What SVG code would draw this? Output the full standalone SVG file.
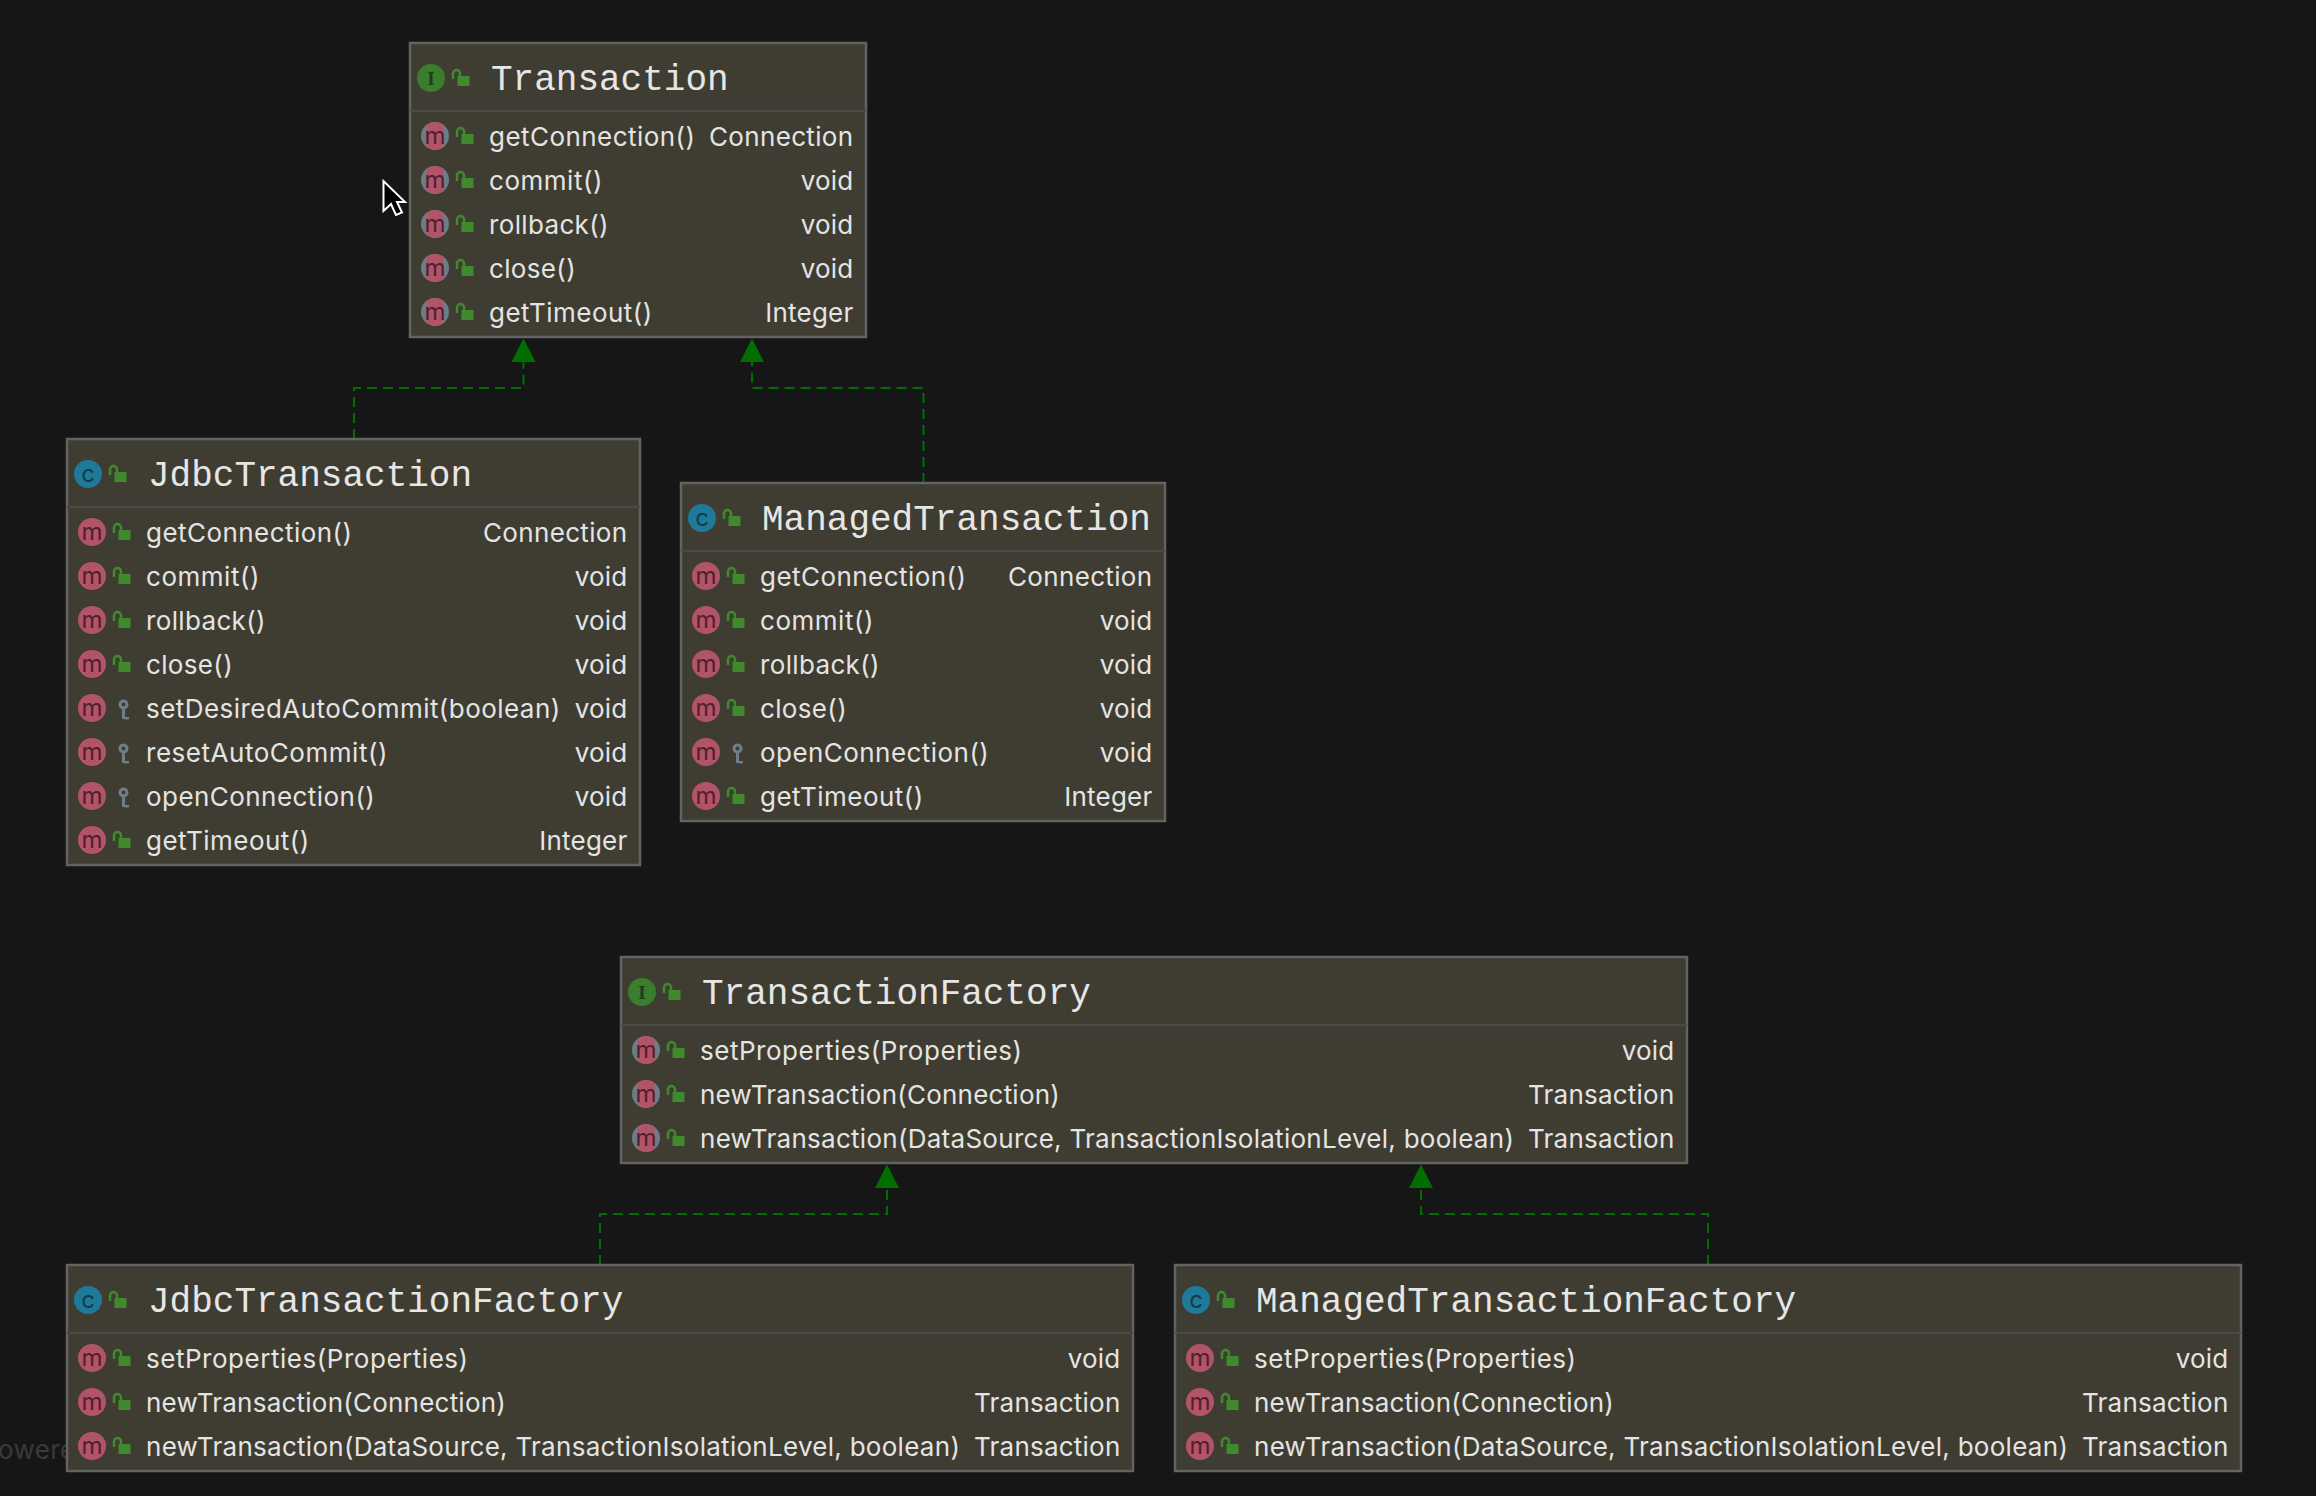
<svg xmlns="http://www.w3.org/2000/svg" width="2316" height="1496" viewBox="0 0 2316 1496">
<style>
.box{fill:#3f3d32;stroke:#636363;stroke-width:2.500}
.div{stroke:#4a4a4a;stroke-width:2}
.title{font:36px "Liberation Mono",monospace;fill:#e6e6e6}
.t{font:26px Inter,"Liberation Sans",sans-serif;fill:#e4e4e4;letter-spacing:.35px}
.r{text-anchor:end}
.a{letter-spacing:.45px}
.b{letter-spacing:.53px}
.n{letter-spacing:.23px}
.l{letter-spacing:.28px}
.v{letter-spacing:.22px}
.im{font:24px Inter,sans-serif;fill:#4e2030;text-anchor:middle}
.ic{font:24px Inter,sans-serif;fill:#123c4e;text-anchor:middle}
.ii{font:bold 19px "Liberation Serif",serif;fill:#1f3d1a;text-anchor:middle}
.edge{fill:none;stroke:#006f00;stroke-width:2;stroke-dasharray:10 6}
.head{fill:#006f00}
.wm{font:26px Inter,sans-serif;fill:#3a3a3a;letter-spacing:.35px}
</style>
<defs>
<g id="lock"><rect x="-3.500" y="-2" width="12" height="10" fill="#3f8a2c"/><path d="M-8,1V-4.500a3.500,3.500 0 0 1 7,0V-1" fill="none" stroke="#3f8a2c" stroke-width="2.500"/></g>
<g id="key" fill="#6e7f88"><path fill-rule="evenodd" d="M-.5,-8.500a5,5 0 1 1 -.01,0zM-.5,-5.500a2,2 0 1 0 .01,0z"/><path d="M-2,0h3v9h4v2.500h-4v-.5h-3z"/></g>
<g id="m"><circle r="14" fill="#b15468"/><text class="im" y="8">m</text></g>
<g id="am"><circle r="14" fill="#6d7c86"/><path d="M-8.500,-11.100A14,14 0 0 1 8.500,-11.100V11.100A14,14 0 0 1 -8.500,11.100z" fill="#b15468"/><text class="im" y="8">m</text></g>
<g id="c"><circle r="14" fill="#1f7a99"/><text class="ic" y="8">c</text></g>
<g id="i"><circle r="14" fill="#3a7d2c"/><text class="ii" y="6.500">I</text></g>
</defs>
<rect width="2316" height="1496" fill="#161616"/>
<text class="wm" x="-2" y="1459">owere</text>
<g id="connectors">
<path class="edge" d="M354,439V388H523.500V362"/>
<path class="head" d="M523.500,338.500L535.500,362H511.500z"/>
<path class="edge" d="M923.500,483V388H752V362"/>
<path class="head" d="M752,338.500L764,362H740z"/>
<path class="edge" d="M600,1265V1214H887V1188"/>
<path class="head" d="M887,1164.500L899,1188H875z"/>
<path class="edge" d="M1708,1265V1214H1421V1188"/>
<path class="head" d="M1421,1164.500L1433,1188H1409z"/>
</g>
<g id="node-transaction" transform="translate(410,43)">
<rect class="box" width="456" height="294"/><path class="div" d="M0,68H456"/>
<use href="#i" x="21" y="35"/><use href="#lock" x="51" y="35"/><text class="title" x="81" y="47">Transaction</text>
<use href="#am" x="25" y="93"/><use href="#lock" x="55" y="93"/><text class="t a" x="79" y="103">getConnection()</text><text class="t r" x="443.500" y="103">Connection</text>
<use href="#am" x="25" y="137"/><use href="#lock" x="55" y="137"/><text class="t b" x="79" y="147">commit()</text><text class="t r v" x="443.500" y="147">void</text>
<use href="#am" x="25" y="181"/><use href="#lock" x="55" y="181"/><text class="t" x="79" y="191">rollback()</text><text class="t r v" x="443.500" y="191">void</text>
<use href="#am" x="25" y="225"/><use href="#lock" x="55" y="225"/><text class="t" x="79" y="235">close()</text><text class="t r v" x="443.500" y="235">void</text>
<use href="#am" x="25" y="269"/><use href="#lock" x="55" y="269"/><text class="t a" x="79" y="279">getTimeout()</text><text class="t r v" x="443.500" y="279">Integer</text>
</g>
<g id="node-jdbc-transaction" transform="translate(67,439)">
<rect class="box" width="573" height="426"/><path class="div" d="M0,68H573"/>
<use href="#c" x="21" y="35"/><use href="#lock" x="51" y="35"/><text class="title" x="81" y="47">JdbcTransaction</text>
<use href="#m" x="25" y="93"/><use href="#lock" x="55" y="93"/><text class="t a" x="79" y="103">getConnection()</text><text class="t r" x="560.500" y="103">Connection</text>
<use href="#m" x="25" y="137"/><use href="#lock" x="55" y="137"/><text class="t b" x="79" y="147">commit()</text><text class="t r v" x="560.500" y="147">void</text>
<use href="#m" x="25" y="181"/><use href="#lock" x="55" y="181"/><text class="t" x="79" y="191">rollback()</text><text class="t r v" x="560.500" y="191">void</text>
<use href="#m" x="25" y="225"/><use href="#lock" x="55" y="225"/><text class="t" x="79" y="235">close()</text><text class="t r v" x="560.500" y="235">void</text>
<use href="#m" x="25" y="269"/><use href="#key" x="57" y="269"/><text class="t a" x="79" y="279">setDesiredAutoCommit(boolean)</text><text class="t r v" x="560.500" y="279">void</text>
<use href="#m" x="25" y="313"/><use href="#key" x="57" y="313"/><text class="t b" x="79" y="323">resetAutoCommit()</text><text class="t r v" x="560.500" y="323">void</text>
<use href="#m" x="25" y="357"/><use href="#key" x="57" y="357"/><text class="t a" x="79" y="367">openConnection()</text><text class="t r v" x="560.500" y="367">void</text>
<use href="#m" x="25" y="401"/><use href="#lock" x="55" y="401"/><text class="t a" x="79" y="411">getTimeout()</text><text class="t r v" x="560.500" y="411">Integer</text>
</g>
<g id="node-managed-transaction" transform="translate(681,483)">
<rect class="box" width="484" height="338"/><path class="div" d="M0,68H484"/>
<use href="#c" x="21" y="35"/><use href="#lock" x="51" y="35"/><text class="title" x="81" y="47">ManagedTransaction</text>
<use href="#m" x="25" y="93"/><use href="#lock" x="55" y="93"/><text class="t a" x="79" y="103">getConnection()</text><text class="t r" x="471.500" y="103">Connection</text>
<use href="#m" x="25" y="137"/><use href="#lock" x="55" y="137"/><text class="t b" x="79" y="147">commit()</text><text class="t r v" x="471.500" y="147">void</text>
<use href="#m" x="25" y="181"/><use href="#lock" x="55" y="181"/><text class="t" x="79" y="191">rollback()</text><text class="t r v" x="471.500" y="191">void</text>
<use href="#m" x="25" y="225"/><use href="#lock" x="55" y="225"/><text class="t" x="79" y="235">close()</text><text class="t r v" x="471.500" y="235">void</text>
<use href="#m" x="25" y="269"/><use href="#key" x="57" y="269"/><text class="t a" x="79" y="279">openConnection()</text><text class="t r v" x="471.500" y="279">void</text>
<use href="#m" x="25" y="313"/><use href="#lock" x="55" y="313"/><text class="t a" x="79" y="323">getTimeout()</text><text class="t r v" x="471.500" y="323">Integer</text>
</g>
<g id="node-transaction-factory" transform="translate(621,957)">
<rect class="box" width="1066" height="206"/><path class="div" d="M0,68H1066"/>
<use href="#i" x="21" y="35"/><use href="#lock" x="51" y="35"/><text class="title" x="81" y="47">TransactionFactory</text>
<use href="#am" x="25" y="93"/><use href="#lock" x="55" y="93"/><text class="t b" x="79" y="103">setProperties(Properties)</text><text class="t r v" x="1053.500" y="103">void</text>
<use href="#am" x="25" y="137"/><use href="#lock" x="55" y="137"/><text class="t n" x="79" y="147">newTransaction(Connection)</text><text class="t r v" x="1053.500" y="147">Transaction</text>
<use href="#am" x="25" y="181"/><use href="#lock" x="55" y="181"/><text class="t l" x="79" y="191">newTransaction(DataSource, TransactionIsolationLevel, boolean)</text><text class="t r v" x="1053.500" y="191">Transaction</text>
</g>
<g id="node-jdbc-transaction-factory" transform="translate(67,1265)">
<rect class="box" width="1066" height="206"/><path class="div" d="M0,68H1066"/>
<use href="#c" x="21" y="35"/><use href="#lock" x="51" y="35"/><text class="title" x="81" y="47">JdbcTransactionFactory</text>
<use href="#m" x="25" y="93"/><use href="#lock" x="55" y="93"/><text class="t b" x="79" y="103">setProperties(Properties)</text><text class="t r v" x="1053.500" y="103">void</text>
<use href="#m" x="25" y="137"/><use href="#lock" x="55" y="137"/><text class="t n" x="79" y="147">newTransaction(Connection)</text><text class="t r v" x="1053.500" y="147">Transaction</text>
<use href="#m" x="25" y="181"/><use href="#lock" x="55" y="181"/><text class="t l" x="79" y="191">newTransaction(DataSource, TransactionIsolationLevel, boolean)</text><text class="t r v" x="1053.500" y="191">Transaction</text>
</g>
<g id="node-managed-transaction-factory" transform="translate(1175,1265)">
<rect class="box" width="1066" height="206"/><path class="div" d="M0,68H1066"/>
<use href="#c" x="21" y="35"/><use href="#lock" x="51" y="35"/><text class="title" x="81" y="47">ManagedTransactionFactory</text>
<use href="#m" x="25" y="93"/><use href="#lock" x="55" y="93"/><text class="t b" x="79" y="103">setProperties(Properties)</text><text class="t r v" x="1053.500" y="103">void</text>
<use href="#m" x="25" y="137"/><use href="#lock" x="55" y="137"/><text class="t n" x="79" y="147">newTransaction(Connection)</text><text class="t r v" x="1053.500" y="147">Transaction</text>
<use href="#m" x="25" y="181"/><use href="#lock" x="55" y="181"/><text class="t l" x="79" y="191">newTransaction(DataSource, TransactionIsolationLevel, boolean)</text><text class="t r v" x="1053.500" y="191">Transaction</text>
</g>
<path id="cursor" d="M383.500,181V211L391,204L396,215L402,212.500L397,202H405z" fill="#000" stroke="#fff" stroke-width="2"/>
</svg>
